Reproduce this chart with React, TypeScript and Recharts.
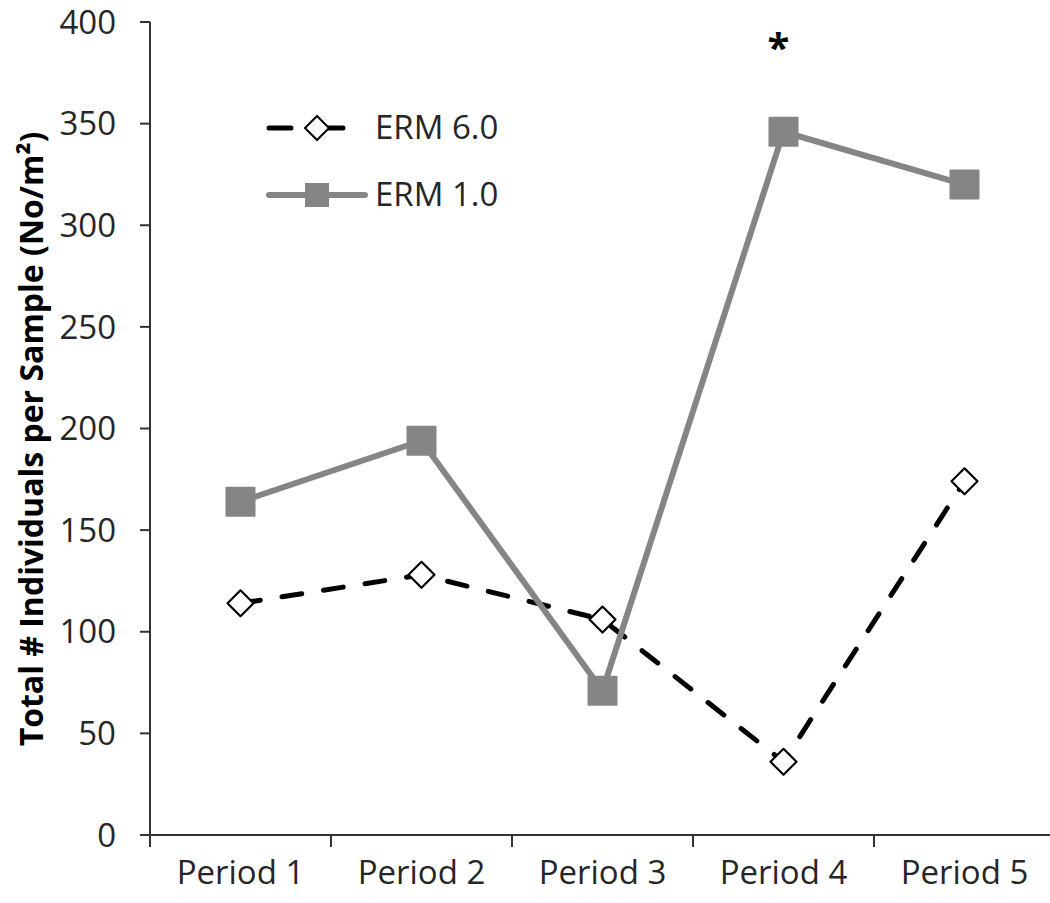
import React from "react";
import {
  LineChart,
  Line,
  XAxis,
  YAxis,
  LabelList,
  Label,
} from "recharts";

// Sampling periods along the x axis
const periods = ["Period 1", "Period 2", "Period 3", "Period 4", "Period 5"];

// Total individuals per sample (No/m²) for each treatment
const erm60 = [114, 128, 106, 36, 174];
const erm10 = [164, 194, 71, 346, 320];

// Periods flagged as significantly different
const significantPeriods = ["Period 4"];

const seriesNames = ["ERM 6.0", "ERM 1.0"];
const yTicks = [0, 50, 100, 150, 200, 250, 300, 350, 400];

const data = periods.map((p, i) => ({
  period: p,
  erm60: erm60[i],
  erm10: erm10[i],
}));

const FONT = "'Open Sans', sans-serif";
const TEXT = "#262626";
const AXIS = "#333";
const GREY = "#858585";
const X_TICK_SIZE = 6;
const X_TICK_MARGIN = 20;

const DiamondDot = (props: any) => {
  const { cx, cy } = props;
  if (cx == null || cy == null) return null;
  const r = 13;
  return (
    <polygon
      points={`${cx},${cy - r} ${cx + r},${cy} ${cx},${cy + r} ${cx - r},${cy}`}
      fill="#ffffff"
      stroke="#000000"
      strokeWidth={2.2}
      strokeLinejoin="round"
    />
  );
};

const SquareDot = (props: any) => {
  const { cx, cy } = props;
  if (cx == null || cy == null) return null;
  const s = 30;
  return <rect x={cx - s / 2} y={cy - s / 2} width={s} height={s} fill={GREY} rx={1} />;
};

const SignificanceMark = (props: any) => {
  const { x, y, index } = props;
  if (!significantPeriods.includes(periods[index])) return null;
  return (
    <text
      x={x - 5}
      y={y - 70}
      textAnchor="middle"
      fontFamily={FONT}
      fontSize={40}
      fontWeight={700}
      fill="#000"
    >
      *
    </text>
  );
};

// Category label with tick marks on the boundaries between periods
const PeriodTick = (props: any) => {
  const { x, y, payload, index, visibleTicksCount, width } = props;
  const count = visibleTicksCount || periods.length;
  const step = (width || 905) / count;
  const axisY = y - X_TICK_MARGIN - X_TICK_SIZE;
  const left = x - step / 2;
  const right = x + step / 2;
  return (
    <g>
      <line x1={left} y1={axisY} x2={left} y2={axisY + 12} stroke={AXIS} strokeWidth={2} />
      {index === count - 1 && (
        <line x1={right} y1={axisY} x2={right} y2={axisY + 12} stroke={AXIS} strokeWidth={2} />
      )}
      <text
        x={x}
        y={y}
        dy="0.71em"
        textAnchor="middle"
        fontFamily={FONT}
        fontSize={33}
        fill={TEXT}
      >
        {payload.value}
      </text>
    </g>
  );
};

// Legend keys drawn in the upper-left of the plot
const LegendBox = () => (
  <svg
    width={260}
    height={110}
    style={{ position: "absolute", left: 265, top: 108, overflow: "visible" }}
  >
    <line
      x1={4}
      y1={20}
      x2={78}
      y2={20}
      stroke="#000"
      strokeWidth={5}
      strokeDasharray="22 34"
      strokeLinecap="round"
    />
    <polygon points={`52,8 64,20 52,32 40,20`} fill="#fff" stroke="#000" strokeWidth={2} />
    <text x={110} y={31} fontFamily={FONT} fontSize={33} fill={TEXT}>
      {seriesNames[0]}
    </text>
    <line
      x1={4}
      y1={87}
      x2={100}
      y2={87}
      stroke={GREY}
      strokeWidth={6}
      strokeLinecap="round"
    />
    <rect x={40} y={75} width={24} height={24} fill={GREY} />
    <text x={110} y={98} fontFamily={FONT} fontSize={33} fill={TEXT}>
      {seriesNames[1]}
    </text>
  </svg>
);

const YLabel = () => {
  const cy = 439;
  const cx = 30;
  return (
    <text
      x={cx}
      y={cy}
      transform={`rotate(-90, ${cx}, ${cy})`}
      textAnchor="middle"
      dominantBaseline="central"
      fontFamily={FONT}
      fontSize={32}
      fontWeight={700}
      fill="#000"
    >
      Total # Individuals per Sample (No/m²)
    </text>
  );
};

export default function App() {
  return (
    <div
      style={{
        position: "absolute",
        left: 0,
        top: 0,
        width: 1050,
        height: 903,
        overflow: "hidden",
        background: "#fff",
      }}
    >
      <LineChart
        width={1060}
        height={903}
        data={data}
        margin={{ top: 22, right: 5, bottom: 0, left: 0 }}
      >
        <XAxis
          dataKey="period"
          height={68}
          padding={{ left: 90.5, right: 90.5 }}
          axisLine={{ stroke: AXIS, strokeWidth: 2 }}
          tickLine={false}
          tickSize={X_TICK_SIZE}
          tickMargin={X_TICK_MARGIN}
          tick={<PeriodTick />}
          interval={0}
        />
        <YAxis
          domain={[0, 400]}
          ticks={yTicks}
          width={150}
          tickSize={10}
          tickMargin={24}
          axisLine={{ stroke: AXIS, strokeWidth: 2 }}
          tickLine={{ stroke: AXIS, strokeWidth: 2 }}
          tick={{ fontFamily: FONT, fontSize: 33, fill: TEXT }}
        >
          <Label content={<YLabel />} />
        </YAxis>
        <Line
          type="linear"
          dataKey="erm60"
          name={seriesNames[0]}
          stroke="#000"
          strokeWidth={5}
          strokeDasharray="20 22"
          strokeLinecap="round"
          dot={<DiamondDot />}
          isAnimationActive={false}
        />
        <Line
          type="linear"
          dataKey="erm10"
          name={seriesNames[1]}
          stroke={GREY}
          strokeWidth={6}
          dot={<SquareDot />}
          isAnimationActive={false}
        >
          <LabelList dataKey="erm10" content={<SignificanceMark />} />
        </Line>
      </LineChart>
      <LegendBox />
    </div>
  );
}
